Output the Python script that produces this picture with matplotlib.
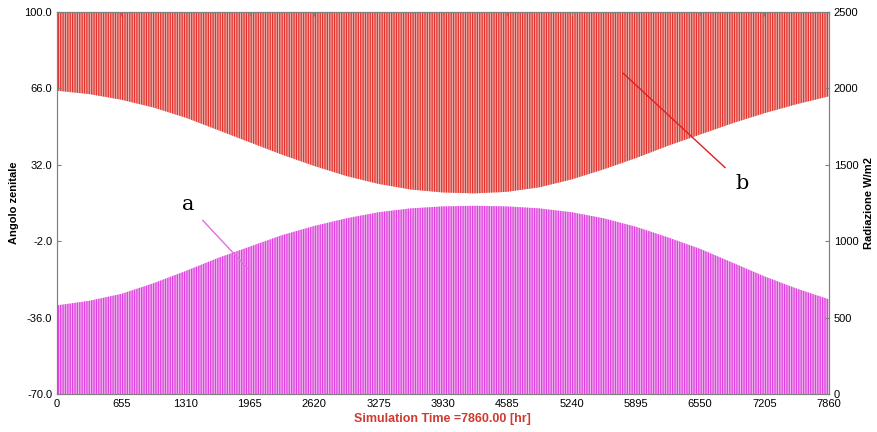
import matplotlib
matplotlib.use("Agg")
import matplotlib.pyplot as plt
import numpy as np

t_hr = [0, 328, 655, 983, 1310, 1638, 1965, 2293, 2620, 2948, 3275, 3603, 3930,
        4258, 4585, 4913, 5240, 5568, 5895, 6223, 6550, 6878, 7205, 7533, 7860]
# daily minimum of the zenith angle (left axis) - lower edge of the red band
zenith_min = [65.0, 63.5, 61.0, 57.5, 53.0, 47.5, 42.0, 36.5, 31.5, 27.0, 23.5, 21.0, 19.7,
              19.3, 20.0, 22.0, 25.5, 30.0, 35.0, 40.5, 45.5, 50.5, 55.0, 59.0, 62.5]
# daily peak of the radiation (right axis, W/m2) - upper edge of the magenta band
rad_peak = [580, 610, 655, 725, 805, 890, 965, 1040, 1100, 1150, 1190, 1215, 1228,
            1232, 1228, 1215, 1190, 1150, 1095, 1025, 950, 860, 770, 690, 620]

x_ticks = [0, 655, 1310, 1965, 2620, 3275, 3930, 4585, 5240, 5895, 6550, 7205, 7860]
left_ticks = [100.0, 66.0, 32.0, -2.0, -36.0, -70.0]
right_ticks = [0, 500, 1000, 1500, 2000, 2500]

plt.rcParams['font.family'] = ['Liberation Sans', 'DejaVu Sans']
plt.rcParams['hatch.linewidth'] = 0.9

fig = plt.figure(figsize=(8.77, 4.32), dpi=100)
ax = fig.add_axes([0.065, 0.088, 0.880, 0.884])
ax2 = ax.twinx()

red = '#e6322c'
red_pale = '#eab2ae'
mag = '#e040e0'
mag_pale = '#f0b4f0'

# bands drawn as dense vertical hatching to mimic the hourly daily cycles
ax.fill_between(t_hr, zenith_min, 100, facecolor=red_pale, edgecolor=red,
                hatch='|||||||', linewidth=0)
ax2.fill_between(t_hr, 0, rad_peak, facecolor=mag_pale, edgecolor=mag,
                 hatch='|||||||', linewidth=0)

ax.set_xlim(0, 7860)
ax.set_ylim(-70, 100)
ax2.set_ylim(0, 2500)

ax.set_xticks(x_ticks)
ax.set_xticklabels([str(v) for v in x_ticks])
ax.set_yticks(left_ticks)
ax.set_yticklabels(['%.1f' % v for v in left_ticks])
ax2.set_yticks(right_ticks)
ax2.set_yticklabels([str(v) for v in right_ticks])

for a in (ax, ax2):
    a.tick_params(labelsize=8, length=3, direction='in', color='#808080')
    for s in a.spines.values():
        s.set_color('#808080')
ax.tick_params(axis='x', top=True)

ax.set_ylabel('Angolo zenitale', fontsize=8, fontweight='bold', labelpad=4)
ax2.set_ylabel('Radiazione W/m2', fontsize=8, fontweight='bold', labelpad=4)
ax.set_xlabel('Simulation Time =7860.00 [hr]', fontsize=9, fontweight='bold',
              color='#d03a30', labelpad=3)

# annotations
ax2.set_zorder(1)
ax2.patch.set_visible(False)
ax2.annotate('a', xy=(1945, 820), xytext=(1334, 1240), fontsize=15,
             family='DejaVu Serif', ha='center', va='center',
             arrowprops=dict(arrowstyle='-', color='#e070e0', lw=1.0,
                             shrinkA=6, shrinkB=0))
ax.annotate('b', xy=(5763, 72.9), xytext=(6974, 23.9), fontsize=15,
            family='DejaVu Serif', ha='center', va='center',
            arrowprops=dict(arrowstyle='-', color='#e02020', lw=1.0,
                            shrinkA=7, shrinkB=0))

fig.savefig('out.png', dpi=100)
